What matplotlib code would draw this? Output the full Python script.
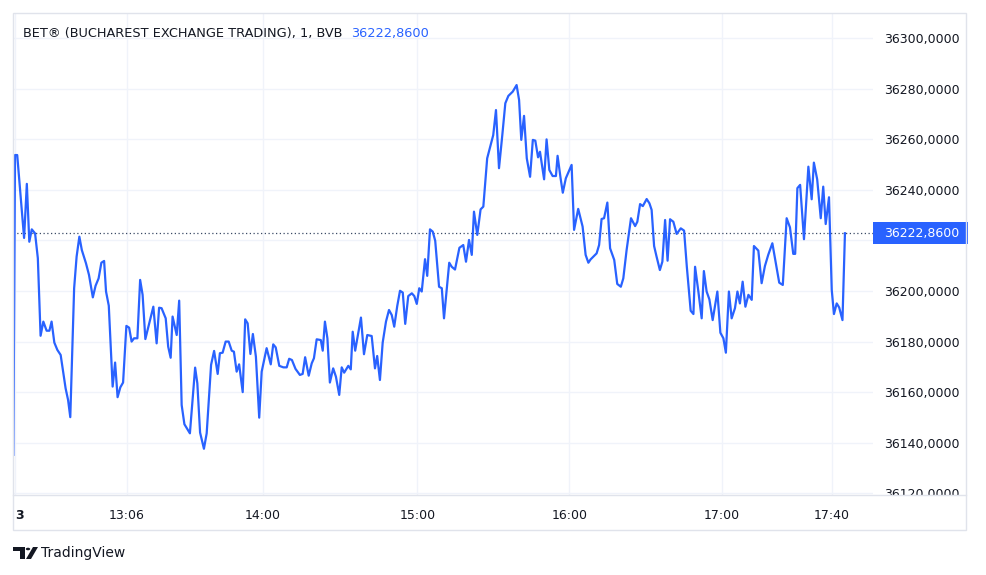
import matplotlib
matplotlib.use('Agg')
import matplotlib.pyplot as plt
from matplotlib.patches import Rectangle, Polygon, Circle
from matplotlib.lines import Line2D
from matplotlib.transforms import Bbox, TransformedBbox, blended_transform_factory

# BET index, 1-minute bars (x = bar number from session start)
bar = [-0.6, 0.0, 0.8, 3.3, 4.3, 5.2, 6.1, 7.3, 8.3, 9.3, 10.3, 11.5, 12.5, 13.3, 14.3, 15.4, 16.6,
       18.4, 19.3, 20.1, 21.5, 22.4, 23.4, 24.3, 25.8, 26.9, 28.3, 29.3, 30.4, 31.4, 32.4, 33.1, 34.1,
       35.5, 36.4, 37.3, 38.3, 39.3, 40.5, 41.5, 42.4, 43.3, 44.5, 45.5, 46.4, 47.4, 50.3, 51.5, 52.4,
       53.3, 54.8, 55.7, 56.6, 57.3, 58.8, 59.7, 60.6, 61.6, 63.6, 65.5, 66.3, 67.3, 68.7, 69.7, 71.3,
       72.4, 73.7, 74.5, 75.5, 76.6, 77.7, 78.8, 79.6, 80.6, 81.5, 82.8, 83.7, 84.6, 85.6, 86.5, 87.6,
       88.8, 89.7, 91.5, 93.0, 93.9, 94.8, 96.1, 97.6, 98.8, 99.7, 100.7, 102.0, 103.6, 104.6, 105.5,
       106.8, 107.9, 108.7, 109.7, 111.2, 111.9, 112.7, 113.6, 114.5, 115.7, 116.7, 117.9, 118.8, 119.7,
       121.2, 122.1, 122.8, 123.7, 125.8, 126.9, 128.1, 129.7, 130.9, 131.7, 132.7, 133.7, 134.9, 136.0,
       137.0, 137.9, 139.0, 140.0, 141.0, 141.9, 143.0, 144.3, 145.2, 146.1, 147.0, 147.9, 149.1, 149.9,
       150.9, 151.9, 152.8, 154.2, 155.2, 156.0, 157.9, 158.8, 160.0, 161.6, 163.0, 164.0, 165.1, 166.1,
       166.9, 168.1, 169.3, 170.3, 171.7, 173.9, 174.9, 176.0, 177.2, 178.3, 179.4, 181.0, 182.4, 183.3,
       184.1, 185.1, 186.1, 187.3, 188.3, 189.2, 190.2, 190.9, 192.4, 193.3, 194.3, 195.5, 196.7, 197.3,
       198.4, 199.2, 200.3, 201.6, 202.4, 203.3, 204.8, 206.4, 207.5, 208.5, 209.3, 210.3, 211.5, 212.4,
       213.3, 214.2, 215.4, 216.4, 217.9, 219.0, 220.3, 221.2, 222.4, 224.0, 225.5, 226.3, 227.3, 228.3,
       229.7, 230.7, 231.5, 232.4, 233.3, 234.5, 235.4, 236.4, 237.3, 238.2, 239.4, 240.6, 242.1, 243.3,
       244.3, 245.7, 246.7, 247.3, 248.5, 249.7, 250.5, 251.5, 252.5, 253.7, 255.4, 256.5, 257.6, 258.5,
       259.6, 260.6, 261.8, 262.7, 263.6, 264.6, 265.6, 266.7, 267.9, 268.7, 270.3, 271.5, 272.7, 273.9,
       275.4, 277.9, 279.2, 280.6, 281.8, 283.0, 283.7, 284.5, 285.5, 286.9, 288.5, 289.7, 290.5, 291.7,
       293.0, 293.9, 294.8, 296.0, 297.0, 297.8, 298.8, 299.7, 300.9, 301.8]
price = [36135.2, 36253.8, 36253.8, 36221.0, 36242.4, 36219.5, 36224.4, 36222.8, 36213.0, 36182.3,
         36187.9, 36184.3, 36184.3, 36187.9, 36179.6, 36176.7, 36174.7, 36161.5, 36156.9, 36150.1,
         36201.1, 36213.6, 36221.5, 36216.2, 36211.0, 36206.4, 36197.5, 36202.1, 36205.0, 36211.2,
         36211.9, 36199.8, 36194.2, 36162.2, 36171.7, 36158.0, 36161.9, 36163.8, 36186.2, 36185.5,
         36180.0, 36181.3, 36181.3, 36204.4, 36198.5, 36181.0, 36193.8, 36179.3, 36193.4, 36193.2,
         36189.2, 36178.0, 36173.6, 36189.9, 36182.6, 36196.2, 36154.9, 36147.3, 36143.7, 36169.7,
         36163.5, 36144.0, 36137.6, 36143.7, 36170.8, 36176.3, 36167.2, 36175.4, 36175.6, 36180.0,
         36180.0, 36176.4, 36176.0, 36168.1, 36171.0, 36160.0, 36188.8, 36187.2, 36175.1, 36183.0,
         36174.0, 36149.9, 36168.1, 36177.4, 36171.0, 36178.9, 36177.7, 36170.4, 36169.8, 36169.8,
         36173.2, 36172.7, 36169.2, 36166.8, 36167.2, 36173.8, 36166.5, 36171.4, 36173.4, 36180.9,
         36180.6, 36176.4, 36187.9, 36181.3, 36163.8, 36169.4, 36166.1, 36158.9, 36169.8, 36167.7,
         36170.4, 36169.0, 36183.9, 36176.4, 36189.5, 36175.0, 36182.6, 36182.2, 36169.4, 36174.3,
         36164.8, 36179.6, 36187.9, 36192.5, 36190.5, 36185.9, 36194.1, 36200.1, 36199.4, 36187.0,
         36198.0, 36199.1, 36198.0, 36194.9, 36201.1, 36199.8, 36212.6, 36206.0, 36224.4, 36223.5,
         36219.9, 36201.7, 36201.1, 36189.2, 36211.2, 36209.6, 36208.5, 36217.1, 36218.2, 36211.6,
         36220.2, 36214.3, 36231.4, 36222.2, 36232.3, 36233.4, 36252.5, 36261.7, 36271.6, 36248.6,
         36261.7, 36274.3, 36277.2, 36278.9, 36281.5, 36275.6, 36259.8, 36269.3, 36252.5, 36245.2,
         36259.8, 36259.5, 36252.9, 36255.1, 36244.2, 36260.0, 36247.9, 36245.5, 36245.5, 36253.5,
         36244.6, 36238.9, 36244.6, 36247.9, 36249.9, 36224.2, 36232.5, 36225.5, 36214.3, 36211.2,
         36212.5, 36213.6, 36214.9, 36218.2, 36228.5, 36228.8, 36235.0, 36216.9, 36212.3, 36202.8,
         36201.7, 36205.0, 36216.2, 36228.8, 36225.7, 36227.4, 36234.4, 36233.6, 36236.4, 36234.7,
         36232.1, 36217.8, 36213.6, 36208.3, 36211.6, 36228.1, 36212.0, 36228.4, 36227.4, 36222.6,
         36224.8, 36223.9, 36209.6, 36192.2, 36190.9, 36209.6, 36199.8, 36189.2, 36207.9, 36199.8,
         36196.7, 36188.5, 36199.8, 36183.5, 36181.3, 36175.6, 36199.8, 36189.2, 36193.2, 36199.8,
         36195.1, 36203.7, 36193.8, 36198.5, 36196.5, 36217.8, 36216.0, 36203.1, 36209.9, 36214.3,
         36218.9, 36203.3, 36202.4, 36228.8, 36225.2, 36214.7, 36214.7, 36240.7, 36242.0, 36220.5,
         36249.2, 36236.3, 36250.8, 36244.2, 36228.8, 36241.3, 36226.5, 36237.1, 36200.4, 36190.9,
         36195.1, 36193.5, 36188.5, 36222.86]

tick_bars = [0, 40.6, 90.1, 146.3, 201.6, 257.0, 297.0]
tick_labels = ['3', '13:06', '14:00', '15:00', '16:00', '17:00', '17:40']
price_ticks = [36120, 36140, 36160, 36180, 36200, 36220, 36240, 36260, 36280, 36300]

title = 'BET® (BUCHAREST EXCHANGE TRADING), 1, BVB'
last = price[-1]

def fmt(v):
    return ('%.4f' % v).replace('.', ',')

BLUE = '#2962ff'
TXT = '#131722'
GRID = '#f0f3fa'
BORDER = '#e0e3eb'

W, H = 987, 575
def fx(p):
    return p / W
def fy(p):
    return 1 - p / H

fig = plt.figure(figsize=(W / 100, H / 100), dpi=100)
fig.patch.set_facecolor('white')
ax = fig.add_axes([fx(13), fy(495), fx(873) - fx(13), fy(13) - fy(495)])

ax.plot(bar, price, color=BLUE, lw=1.6, solid_joinstyle='round', zorder=3)
ax.axhline(last, color='#3b4a66', lw=0.9, ls=(0, (1, 2)), zorder=2)

ax.set_xlim(-0.73, 312.0)
ax.set_ylim(36119.3, 36310.0)

ax.set_xticks(tick_bars)
ax.set_xticklabels(tick_labels)
ax.set_yticks(price_ticks)
# labels too close to the last-price badge are hidden, as on the price scale
ax.set_yticklabels(['' if abs(v - last) < 8 else fmt(v) for v in price_ticks])
ax.yaxis.tick_right()
ax.tick_params(axis='both', length=0, labelsize=9, labelcolor=TXT)
ax.tick_params(axis='x', pad=10)
ax.tick_params(axis='y', pad=8)
ax.grid(True, color=GRID, lw=1)
for s in ax.spines.values():
    s.set_visible(False)

xl = ax.get_xticklabels()
xl[0].set_fontweight('bold')
xl[0].set_ha('left')

# lowest price label is cut by the time-scale line
clip = TransformedBbox(Bbox([[0, fy(495)], [1, 1]]), fig.transFigure)
for lbl in ax.get_yticklabels():
    lbl.set_clip_box(clip)
    lbl.set_clip_on(True)

# last price badge on the price scale
tr = blended_transform_factory(ax.transAxes, ax.transData)
bw = (968 - 873) / (873 - 13)
bh = 22 / 2.5275
ax.add_patch(Rectangle((1.0, last - bh / 2), bw, bh, transform=tr, facecolor=BLUE,
                       edgecolor='none', clip_on=False, zorder=5))
ax.text(1.0 + 11 / 860, last, fmt(last), transform=tr, ha='left', va='center',
        color='white', fontsize=9, zorder=6, clip_on=False)

# legend line
t1 = fig.text(fx(23), fy(33), title, ha='left', va='center', fontsize=9.3, color=TXT)
r = fig.canvas.get_renderer()
bb = t1.get_window_extent(renderer=r)
fig.text(bb.x1 / W + fx(9), fy(33), fmt(last), ha='left', va='center', fontsize=9.3, color=BLUE)

# widget frame
fig.add_artist(Rectangle((fx(13), fy(530)), fx(966) - fx(13), fy(13) - fy(530),
                         transform=fig.transFigure, fill=False, edgecolor=BORDER, lw=1))
fig.add_artist(Line2D([fx(13), fx(966)], [fy(495), fy(495)], transform=fig.transFigure,
                      color=BORDER, lw=1))

# TradingView mark
fig.add_artist(Polygon([(fx(13), fy(547)), (fx(25), fy(547)), (fx(25), fy(559)), (fx(20), fy(559)),
                        (fx(20), fy(551)), (fx(13), fy(551))], closed=True,
                       transform=fig.transFigure, facecolor=TXT, edgecolor='none'))
fig.add_artist(Circle((fx(28), fy(549)), 2.2 / W, transform=fig.transFigure,
                      facecolor=TXT, edgecolor='none'))
fig.add_artist(Polygon([(fx(26), fy(559)), (fx(33), fy(547)), (fx(38), fy(547)), (fx(31), fy(559))],
                       closed=True, transform=fig.transFigure, facecolor=TXT, edgecolor='none'))
fig.text(fx(41), fy(553), 'TradingView', ha='left', va='center', fontsize=10, color=TXT)

fig.savefig('out.png', dpi=100, facecolor='white')
